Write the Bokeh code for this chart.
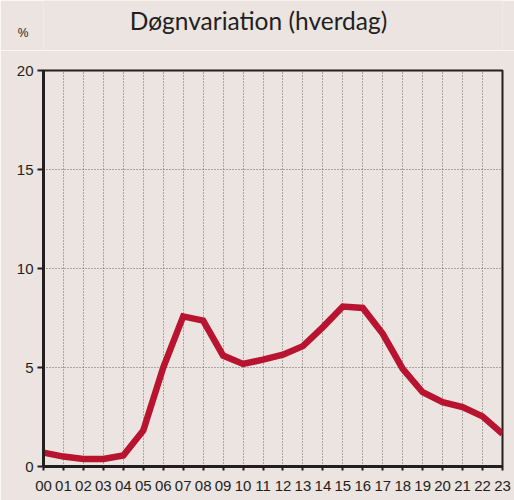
from bokeh.plotting import figure
from bokeh.models import FixedTicker, Range1d
from bokeh.layouts import column
from bokeh.embed import file_html
from bokeh.resources import INLINE
from bokeh.core.properties import value

hours = list(range(24))
hour_labels = ["%02d" % h for h in hours]
share = [0.7, 0.5, 0.38, 0.38, 0.56, 1.82, 5.0, 7.58, 7.37, 5.6, 5.18, 5.4,
         5.65, 6.08, 7.04, 8.08, 8.01, 6.7, 4.93, 3.75, 3.25, 3.0, 2.53, 1.65]
y_ticks = [0, 5, 10, 15, 20]
title_text = "Døgnvariation (hverdag)"
unit_text = "%"

BG = "#EBE4E0"
RED = "#B8142F"
DARK = "#231F20"

# header strip: title as text glyph, unit "%" as the single tick label of a bare axis
head = figure(width=514, height=50, output_backend="svg", toolbar_location=None,
              title=None, x_range=Range1d(43, 502), y_range=Range1d(0, 50),
              x_axis_type=None,
              min_border_left=43, min_border_right=12,
              min_border_top=0, min_border_bottom=0)
head.background_fill_color = BG
head.border_fill_color = BG
head.outline_line_color = None
head.grid.visible = False
head.yaxis.ticker = FixedTicker(ticks=[18])
head.yaxis.major_label_overrides = {18: unit_text}
head.yaxis.axis_line_color = None
head.yaxis.major_tick_line_color = None
head.yaxis.minor_tick_line_color = None
head.yaxis.major_tick_in = 0
head.yaxis.major_tick_out = 0
head.yaxis.major_label_standoff = 15
head.yaxis.major_label_text_font = "Liberation Sans"
head.yaxis.major_label_text_font_size = "12px"
head.yaxis.major_label_text_color = DARK
head.text(x=[258], y=[30], text=[title_text], text_font=value("Lato"),
          text_font_size="24.5px", text_color=DARK, text_align="center",
          text_baseline="alphabetic")

p = figure(width=514, height=450, output_backend="svg", toolbar_location=None,
           title=None, x_range=Range1d(0, 23), y_range=Range1d(0, 20),
           min_border_left=43, min_border_right=12, min_border_top=20,
           min_border_bottom=34)
p.background_fill_color = BG
p.border_fill_color = BG
p.outline_line_color = DARK
p.outline_line_width = 2

p.xaxis.ticker = FixedTicker(ticks=hours)
p.xaxis.major_label_overrides = {h: l for h, l in zip(hours, hour_labels)}
p.yaxis.ticker = FixedTicker(ticks=y_ticks)
for ax in (p.xaxis, p.yaxis):
    ax.axis_line_color = DARK
    ax.axis_line_width = 3
    ax.major_tick_line_color = DARK
    ax.major_tick_line_width = 2
    ax.major_tick_in = 0
    ax.minor_tick_line_color = None
    ax.major_label_text_font = "Liberation Sans"
    ax.major_label_text_font_size = "15px"
    ax.major_label_text_color = DARK
p.xaxis.major_tick_out = 4
p.yaxis.major_tick_out = 6
p.xaxis.major_label_standoff = 10
p.yaxis.major_label_standoff = 4

p.xgrid.ticker = FixedTicker(ticks=hours)
p.xgrid.grid_line_color = "#666666"
p.xgrid.grid_line_dash = "1 2"
p.xgrid.grid_line_width = 1
p.ygrid.ticker = FixedTicker(ticks=[5, 10, 15])
p.ygrid.grid_line_color = "#666666"
p.ygrid.grid_line_dash = "1 2"
p.ygrid.grid_line_width = 1

p.line(hours, share, line_color=RED, line_width=6.5, line_join="miter")

layout = column(head, p, spacing=0)
html = file_html(layout, INLINE)
open("out.html", "w").write(html)
